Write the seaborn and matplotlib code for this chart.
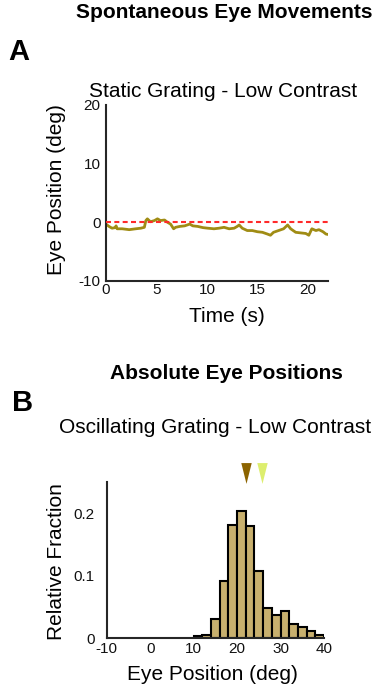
import numpy as np
import pandas as pd
import matplotlib
matplotlib.use("Agg")
import matplotlib.pyplot as plt
from matplotlib.path import Path
import seaborn as sns

# ---------------- data ----------------
time_s = [0, 0.3, 0.6, 0.9, 1.0, 1.1, 1.6, 2.3, 2.95, 3.45, 3.8, 3.95, 4.1, 4.4,
          4.8, 5.1, 5.4, 5.8, 6.1, 6.4, 6.7, 6.9, 7.3, 7.8, 8.3, 8.6, 9.1, 9.6,
          10.1, 10.7, 11.2, 11.7, 12.2, 12.7, 13.0, 13.2, 13.5, 14.0, 14.5, 15.0,
          15.5, 16.0, 16.3, 16.6, 17.1, 17.6, 18.0, 18.3, 18.8, 19.3, 19.8, 20.1,
          20.4, 20.8, 21.1, 21.5, 21.8, 22.1]
eye_pos = [-0.3, -0.7, -1.0, -0.9, -0.6, -1.1, -1.1, -1.25, -1.1, -1.0, -0.85,
           0.3, 0.6, 0.1, 0.3, 0.6, 0.3, 0.4, 0.0, -0.3, -1.1, -0.85, -0.7, -0.6,
           -0.3, -0.6, -0.7, -0.9, -1.0, -1.1, -1.0, -0.85, -1.1, -1.0, -0.7,
           -0.45, -1.0, -1.4, -1.4, -1.6, -1.7, -2.0, -2.2, -1.7, -1.4, -1.1,
           -0.45, -1.1, -1.7, -1.8, -1.9, -2.2, -1.1, -1.4, -1.25, -1.6, -2.0, -2.1]

bin_edges = [10, 12, 14, 16, 18, 20, 22, 24, 26, 28, 30, 32, 34, 36, 38, 40]
rel_fraction = [0.003, 0.005, 0.031, 0.091, 0.181, 0.204, 0.180, 0.108, 0.048,
                0.037, 0.043, 0.023, 0.018, 0.012, 0.005]
marker_positions = [22.0, 25.7]
marker_colors = ["#8C6400", "#DDEE6E"]

top_xticks = [0, 5, 10, 15, 20]
top_yticks = [-10, 0, 10, 20]
bot_xticks = [-10, 0, 10, 20, 30, 40]
bot_yticks = [0, 0.1, 0.2]
bot_yticklabels = ["0", "0.1", "0.2"]

# ---------------- style ----------------
sns.set_style("white")
plt.rcParams["font.family"] = ["Liberation Sans", "DejaVu Sans"]
plt.rcParams["axes.unicode_minus"] = False
plt.rcParams["text.color"] = "black"
plt.rcParams["axes.labelcolor"] = "black"

W, H = 379, 692
fig = plt.figure(figsize=(W / 100, H / 100), dpi=100)

def fx(px):
    return px / W

def fy(py):
    return 1 - py / H

spine_col = "#262626"

def style_axes(ax, xpad, ypad):
    for s in ["top", "right"]:
        ax.spines[s].set_visible(False)
    for s in ["left", "bottom"]:
        ax.spines[s].set_color(spine_col)
        ax.spines[s].set_linewidth(1.5)
    ax.tick_params(direction="in", length=3, width=1, colors=spine_col,
                   labelsize=11, labelcolor="#111111")
    ax.tick_params(axis="x", pad=xpad)
    ax.tick_params(axis="y", pad=ypad)

# ---------------- panel A ----------------
axA = fig.add_axes([fx(106), fy(281), fx(328) - fx(106), (281 - 105) / H])
df_trace = pd.DataFrame({"Time (s)": time_s, "Eye Position (deg)": eye_pos})
sns.lineplot(data=df_trace, x="Time (s)", y="Eye Position (deg)", ax=axA,
             color="#A08C14", linewidth=2.0, zorder=2)
axA.axhline(0, color="#FF2A2A", linestyle=(0, (2.4, 1.6)), linewidth=1.5, zorder=3)
axA.set_xlim(0, 22)
axA.set_ylim(-10, 20)
axA.set_xticks(top_xticks)
axA.set_yticks(top_yticks)
style_axes(axA, xpad=1.2, ypad=4)
axA.set_xlabel("Time (s)", fontsize=15)
axA.set_ylabel("Eye Position (deg)", fontsize=15)
axA.xaxis.label.set_va("baseline")
axA.xaxis.set_label_coords((227 - 106) / 222, (281 - 322) / 176)
axA.yaxis.label.set_va("baseline")
axA.yaxis.set_label_coords((62 - 106) / 222, (281 - 190) / 176)

# ---------------- panel B ----------------
axB = fig.add_axes([fx(106.7), fy(638), fx(324) - fx(106.7), (638 - 482) / H])
centers = [(a + b) / 2 for a, b in zip(bin_edges[:-1], bin_edges[1:])]
sns.histplot(x=centers, weights=rel_fraction, bins=bin_edges, ax=axB,
             color="#C8B06E", edgecolor="black", linewidth=1.5, alpha=1)
axB.set_xlim(-10, 40)
axB.set_ylim(0, 0.25)
axB.set_xticks(bot_xticks)
axB.set_yticks(bot_yticks)
axB.set_yticklabels(bot_yticklabels)
style_axes(axB, xpad=3, ypad=8.5)
axB.set_xlabel("Eye Position (deg)", fontsize=15)
axB.set_ylabel("Relative Fraction", fontsize=15)
axB.xaxis.label.set_va("baseline")
axB.xaxis.set_label_coords((212.5 - 106.7) / 217.3, (638 - 680) / 156)
axB.yaxis.label.set_va("baseline")
axB.yaxis.set_label_coords((62 - 106.7) / 217.3, (638 - 562) / 156)

tri = Path([(-0.5, 1.0), (0.5, 1.0), (0.0, -1.0), (-0.5, 1.0)],
           [Path.MOVETO, Path.LINETO, Path.LINETO, Path.CLOSEPOLY])
for xpos, col in zip(marker_positions, marker_colors):
    axB.plot([xpos], [0.265], marker=tri, markersize=15, color=col,
             markeredgewidth=0, linestyle="none", clip_on=False)

# ---------------- texts ----------------
fig.text(fx(224), fy(18), "Spontaneous Eye Movements", ha="center", va="baseline",
         fontsize=15, fontweight="bold")
fig.text(fx(8), fy(60), "A", ha="left", va="baseline", fontsize=21, fontweight="bold")
fig.text(fx(223.5), fy(97), "Static Grating - Low Contrast", ha="center",
         va="baseline", fontsize=15)
fig.text(fx(226.7), fy(379), "Absolute Eye Positions", ha="center", va="baseline",
         fontsize=15, fontweight="bold")
fig.text(fx(12), fy(411), "B", ha="left", va="baseline", fontsize=21, fontweight="bold")
fig.text(fx(215), fy(433), "Oscillating Grating - Low Contrast", ha="center",
         va="baseline", fontsize=15)

fig.savefig("out.png", dpi=100)
